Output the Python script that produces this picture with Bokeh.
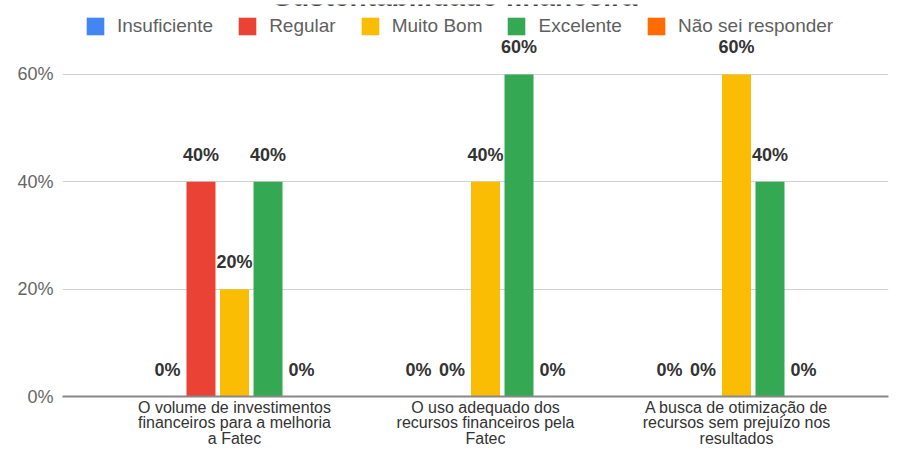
from bokeh.plotting import figure
from bokeh.models import ColumnDataSource, Range1d, FixedTicker, NumeralTickFormatter, Legend, LegendItem, Label
from bokeh.transform import dodge
from bokeh.core.properties import value
from bokeh.embed import file_html
from bokeh.resources import INLINE

title = "Sustentabilidade financeira"
categories = [
    "O volume de investimentos\nfinanceiros para a melhoria\na Fatec",
    "O uso adequado dos\nrecursos financeiros pela\nFatec",
    "A busca de otimização de\nrecursos sem prejuízo nos\nresultados",
]
series = ["Insuficiente", "Regular", "Muito Bom", "Excelente", "Não sei responder"]
insuficiente = [0, 0, 0]
regular = [40, 0, 0]
muito_bom = [20, 40, 60]
excelente = [40, 60, 40]
nao_sei = [0, 0, 0]
y_ticks = [0, 20, 40, 60]

colors = ["#4285F4", "#EA4335", "#FBBC04", "#34A853", "#FF6D01"]
values_list = [insuficiente, regular, muito_bom, excelente, nao_sei]

FONT = "Liberation Sans"
x_idx = list(range(len(categories)))

Y_END = 0.7304
p = figure(width=891, height=452, output_backend="svg", toolbar_location=None,
           x_range=Range1d(-0.6853, 2.6056), y_range=Range1d(0, Y_END),
           min_border_left=62, min_border_right=3, min_border_top=4, min_border_bottom=56)
p.outline_line_color = None
p.background_fill_color = "white"
p.border_fill_color = "white"

step = 0.1335
width = 0.1155
items = []
for i, (name, vals, col) in enumerate(zip(series, values_list, colors)):
    off = (i - 2) * step
    src = ColumnDataSource(dict(x=x_idx, y=[v / 100 for v in vals], lab=[f"{v}%" for v in vals]))
    r = p.vbar(x=dodge("x", off), top="y", bottom=0, width=width, source=src,
               fill_color=col, line_color=None)
    p.text(x=dodge("x", off), y="y", text="lab", source=src, text_align="center",
           text_baseline="middle", y_offset=-27, text_font=value(FONT),
           text_font_size="18px", text_font_style="bold", text_color="#333333")
    items.append(LegendItem(label=name, renderers=[r]))

legend = Legend(items=items, orientation="horizontal", location=(22, 359),
                glyph_width=22, glyph_height=22, label_standoff=11, spacing=23,
                padding=0, margin=0, border_line_color=None, background_fill_alpha=0,
                label_text_font=FONT, label_text_font_size="19px", label_text_color="#5f5f5f")
p.add_layout(legend)

# y axis
p.yaxis.ticker = FixedTicker(ticks=[t / 100 for t in y_ticks])
p.yaxis.formatter = NumeralTickFormatter(format="0%")
p.yaxis.axis_line_color = None
p.yaxis.major_tick_line_color = None
p.yaxis.minor_tick_line_color = None
p.yaxis.major_tick_out = 0
p.yaxis.major_label_standoff = 9
p.yaxis.major_label_text_font = FONT
p.yaxis.major_label_text_font_size = "18px"
p.yaxis.major_label_text_color = "#666666"
p.ygrid.grid_line_color = "#d0d0d0"
p.ygrid.grid_line_width = 1

# x axis
p.xaxis.ticker = FixedTicker(ticks=x_idx)
p.xaxis.major_label_overrides = {i: c for i, c in zip(x_idx, categories)}
p.xaxis.axis_line_color = "#888888"
p.xaxis.axis_line_width = 2
p.xaxis.major_tick_line_color = None
p.xaxis.minor_tick_line_color = None
p.xaxis.major_tick_out = 0
p.xaxis.major_label_standoff = 2
p.xaxis.major_label_text_font = FONT
p.xaxis.major_label_text_font_size = "16px"
p.xaxis.major_label_text_line_height = 0.92
p.xaxis.major_label_text_color = "#333333"
p.xgrid.grid_line_color = None

# title (cut off at the top, as in the reference)
p.add_layout(Label(x=0.88, y=Y_END + 0.015, text=title, text_align="center", text_baseline="alphabetic",
                   text_font=FONT, text_font_size="28px", text_font_style="bold",
                   text_color="#444444"))

open("out.html", "w").write(file_html(p, INLINE))
